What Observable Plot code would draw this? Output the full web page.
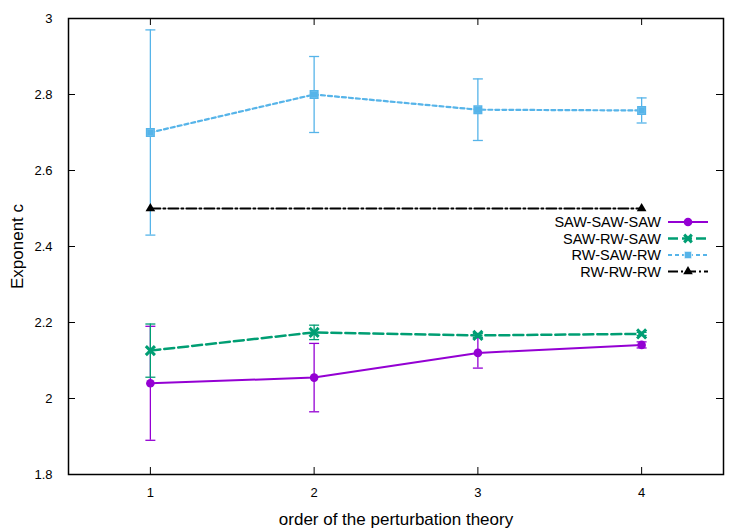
<!DOCTYPE html>
<html>
<head>
<meta charset="utf-8">
<script src="https://cdn.jsdelivr.net/npm/d3@7"></script>
<script src="https://cdn.jsdelivr.net/npm/@observablehq/plot@0.6"></script>
<style>
  html, body { margin: 0; padding: 0; background: #fff; }
  #chart svg { font-family: "Liberation Sans", Arial, sans-serif; }
</style>
</head>
<body>
<div id="chart"></div>
<script>
// ---- data ----
const orders = [1, 2, 3, 4];
const sawSawSaw = [2.04, 2.055, 2.12, 2.141];
const sawSawSawErr = [0.15, 0.09, 0.04, 0.008];
const sawRwSaw = [2.126, 2.174, 2.166, 2.17];
const sawRwSawErr = [0.07, 0.019, 0.005, 0.004];
const rwSawRw = [2.70, 2.80, 2.76, 2.758];
const rwSawRwErr = [0.27, 0.10, 0.081, 0.033];
const rwRwRwOrders = [1, 4];
const rwRwRw = [2.5, 2.5];
const xTicks = [1, 2, 3, 4];
const yTicks = [1.8, 2.0, 2.2, 2.4, 2.6, 2.8, 3.0];
const seriesNames = ["SAW-SAW-SAW", "SAW-RW-SAW", "RW-SAW-RW", "RW-RW-RW"];
const colors = ["#9400d3", "#009e73", "#56b4e9", "#000000"];
const dashes = [null, "10,4", "4,3", "10,3,2,3"];

const W = 747, H = 532;
const mL = 68, mR = 24, mT = 18, mB = 58;
const innerW = W - mL - mR, innerH = H - mT - mB;

function rows(xs, ys, es) {
  return xs.map((x, i) => ({x, y: ys[i], lo: ys[i] - (es ? es[i] : 0), hi: ys[i] + (es ? es[i] : 0)}));
}
const S1 = rows(orders, sawSawSaw, sawSawSawErr);
const S2 = rows(orders, sawRwSaw, sawRwSawErr);
const S3 = rows(orders, rwSawRw, rwSawRwErr);
const S4 = rows(rwRwRwOrders, rwRwRw, null);

// horizontal cap symbol
const capSymbol = {draw(ctx, size) { const r = Math.sqrt(size / Math.PI); ctx.moveTo(-r, 0); ctx.lineTo(r, 0); }};

function errMarks(data, color) {
  return [
    Plot.ruleX(data, {x: "x", y1: "lo", y2: "hi", stroke: color, strokeWidth: 1.3}),
    Plot.dot(data, {x: "x", y: "lo", symbol: capSymbol, r: 5, stroke: color, strokeWidth: 1.3, fill: "none"}),
    Plot.dot(data, {x: "x", y: "hi", symbol: capSymbol, r: 5, stroke: color, strokeWidth: 1.3, fill: "none"})
  ];
}

const chart = Plot.plot({
  width: W, height: H,
  marginLeft: mL, marginRight: mR, marginTop: mT, marginBottom: mB,
  style: {fontFamily: "Liberation Sans, Arial, sans-serif", fontSize: "13px", color: "#000", background: "#fff"},
  x: {domain: [0.5, 4.5]},
  y: {domain: [1.8, 3.0]},
  marks: [
    // inward ticks (left, right, bottom, top)
    Plot.tickY(yTicks.slice(1, -1), {y: d => d, insetRight: innerW - 7, stroke: "#000", strokeWidth: 1}),
    Plot.tickY(yTicks.slice(1, -1), {y: d => d, insetLeft: innerW - 7, stroke: "#000", strokeWidth: 1}),
    Plot.tickX(xTicks, {x: d => d, insetTop: innerH - 7, stroke: "#000", strokeWidth: 1}),
    Plot.tickX(xTicks, {x: d => d, insetBottom: innerH - 7, stroke: "#000", strokeWidth: 1}),
    Plot.axisY(yTicks, {tickSize: 0, tickPadding: 16, label: null, tickFormat: d => d3.format("")(+d.toFixed(1)), fontSize: 13}),
    Plot.axisX(xTicks, {tickSize: 0, tickPadding: 13, label: null, tickFormat: d => d, fontSize: 13}),
    Plot.axisY({ticks: [], label: "Exponent c", labelAnchor: "center", labelArrow: "none", labelOffset: 58, fontSize: 17}),
    Plot.axisX({ticks: [], label: "order of the perturbation theory", labelAnchor: "center", labelArrow: "none", labelOffset: 50, fontSize: 17}),
    Plot.frame({stroke: "#000", strokeWidth: 1.5}),
    // error bars
    ...errMarks(S3, colors[2]),
    ...errMarks(S1, colors[0]),
    ...errMarks(S2, colors[1]),
    // lines
    Plot.line(S4, {x: "x", y: "y", stroke: colors[3], strokeWidth: 2, strokeDasharray: dashes[3]}),
    Plot.line(S3, {x: "x", y: "y", stroke: colors[2], strokeWidth: 2.2, strokeDasharray: dashes[2]}),
    Plot.line(S1, {x: "x", y: "y", stroke: colors[0], strokeWidth: 2}),
    Plot.line(S2, {x: "x", y: "y", stroke: colors[1], strokeWidth: 2.5, strokeDasharray: dashes[1]}),
    // points
    Plot.dot(S4, {x: "x", y: "y", symbol: "triangle", r: 3.6, fill: colors[3]}),
    Plot.dot(S3, {x: "x", y: "y", symbol: "square", r: 4.2, fill: colors[2], stroke: "#fff", strokeWidth: 0.8}),
    Plot.dot(S3, {x: "x", y: "y", symbol: "square", r: 4.2, fill: "none", stroke: colors[2], strokeWidth: 1.6}),
    Plot.dot(S1, {x: "x", y: "y", symbol: "circle", r: 4.3, fill: colors[0]}),
    Plot.dot(S2, {x: "x", y: "y", symbol: "times", r: 4.2, stroke: colors[1], strokeWidth: 3})
  ]
});

document.getElementById("chart").appendChild(chart);

// legend inside the plot area
const svg = d3.select(chart);
const lg = svg.append("g").attr("font-family", "Liberation Sans, Arial, sans-serif").attr("font-size", 14.5);
const legendTop = 222, legendStep = 16.5, textX = 661, sampleX1 = 668, sampleX2 = 708;
const sym = [d3.symbolCircle, d3.symbolTimes, d3.symbolSquare, d3.symbolTriangle];
seriesNames.forEach((name, i) => {
  const y = legendTop + i * legendStep;
  lg.append("text").attr("x", textX).attr("y", y).attr("dy", "0.35em").attr("text-anchor", "end").attr("fill", "#000").text(name);
  const ln = lg.append("line").attr("x1", sampleX1).attr("x2", sampleX2).attr("y1", y).attr("y2", y)
    .attr("stroke", colors[i]).attr("stroke-width", i === 1 ? 2.5 : 2);
  if (dashes[i]) ln.attr("stroke-dasharray", dashes[i]);
  const cx = (sampleX1 + sampleX2) / 2;
  const p = lg.append("path").attr("transform", `translate(${cx},${y})`);
  if (i === 0) p.attr("d", d3.symbol(sym[0], 58)()).attr("fill", colors[0]);
  if (i === 1) p.attr("d", d3.symbol(sym[1], 40)()).attr("fill", "none").attr("stroke", colors[1]).attr("stroke-width", 3);
  if (i === 2) p.attr("d", d3.symbol(sym[2], 55)()).attr("fill", colors[2]).attr("stroke", "#fff").attr("stroke-width", 0.8);
  if (i === 3) p.attr("d", d3.symbol(sym[3], 40)()).attr("fill", colors[3]);
});
</script>
</body>
</html>
